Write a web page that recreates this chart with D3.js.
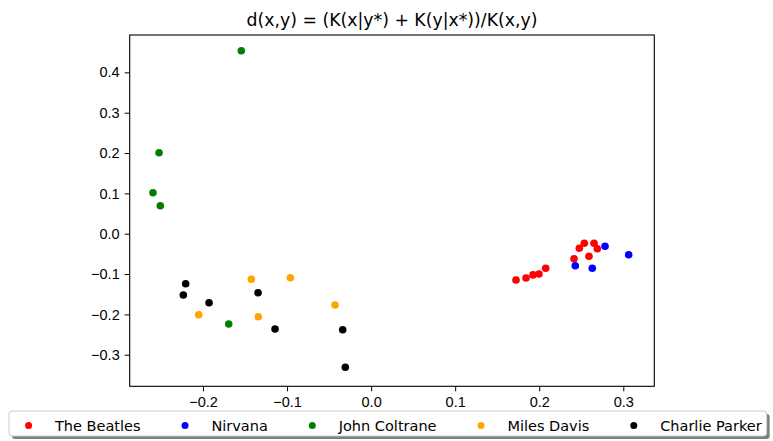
<!DOCTYPE html>
<meta charset="utf-8">
<head>
<script src="https://cdn.jsdelivr.net/npm/d3@7"></script>
<style>
  body { margin: 0; background: #fff; }
  svg { font-family: "DejaVu Sans", sans-serif; }
  .axis path, .axis line { stroke: #000; }
  .axis text { fill: #000; font-size: 14.5px; }
</style>
</head>
<body>
<div id="chart"></div>
<script>
// data
var bands = ["The Beatles", "Nirvana", "John Coltrane", "Miles Davis", "Charlie Parker"];
var colors = ["red", "blue", "green", "orange", "black"];

var beatlesX = [0.1724, 0.1843, 0.1926, 0.1997, 0.2077, 0.2414, 0.2477, 0.2536, 0.2652, 0.2691, 0.2592];
var beatlesY = [-0.1148, -0.1098, -0.1021, -0.0999, -0.0858, -0.0620, -0.0362, -0.0238, -0.0238, -0.0372, -0.0560];
var nirvanaX = [0.2429, 0.2631, 0.2783, 0.3064];
var nirvanaY = [-0.0793, -0.0858, -0.0312, -0.0521];
var coltraneX = [-0.1544, -0.2523, -0.2595, -0.2508, -0.1694];
var coltraneY = [0.4536, 0.2008, 0.1016, 0.0694, -0.2238];
var davisX = [-0.2051, -0.1425, -0.0961, -0.1342, -0.0429];
var davisY = [-0.2008, -0.1130, -0.1091, -0.2058, -0.1767];
var parkerX = [-0.2206, -0.2234, -0.1928, -0.1345, -0.1143, -0.0338, -0.0307];
var parkerY = [-0.1239, -0.1520, -0.1710, -0.1463, -0.2362, -0.2380, -0.3312];

var xTicks = [-0.2, -0.1, 0.0, 0.1, 0.2, 0.3];
var yTicks = [-0.3, -0.2, -0.1, 0.0, 0.1, 0.2, 0.3, 0.4];
var title = "d(x,y) = (K(x|y*) + K(y|x*))/K(x,y)";

var seriesX = [beatlesX, nirvanaX, coltraneX, davisX, parkerX];
var seriesY = [beatlesY, nirvanaY, coltraneY, davisY, parkerY];

var points = [];
bands.forEach(function(b, i) {
  seriesX[i].forEach(function(x, j) {
    points.push({band: b, color: colors[i], x: x, y: seriesY[i][j]});
  });
});

var W = 773, H = 441;
var margin = {top: 35, right: 118.7, bottom: 54.7, left: 129.7},
    width = W - margin.left - margin.right,
    height = H - margin.top - margin.bottom;

var svg = d3.select("#chart").append("svg")
    .attr("width", W)
    .attr("height", H);

svg.append("rect").attr("width", W).attr("height", H).attr("fill", "#fff");

var g = svg.append("g")
    .attr("transform", "translate(" + margin.left + "," + margin.top + ")");

var x = d3.scaleLinear().domain([-0.2872, 0.3369]).range([0, width]);
var y = d3.scaleLinear().domain([-0.3783, 0.4926]).range([height, 0]);

g.append("g")
    .attr("class", "axis")
    .attr("transform", "translate(0," + height + ")")
    .call(d3.axisBottom(x).tickValues(xTicks).tickFormat(d3.format(".1f")).tickSize(5).tickPadding(5))
    .call(function(a) { a.select(".domain").remove(); });

g.append("g")
    .attr("class", "axis")
    .call(d3.axisLeft(y).tickValues(yTicks).tickFormat(d3.format(".1f")).tickSize(5).tickPadding(5))
    .call(function(a) { a.select(".domain").remove(); });

// dots
g.selectAll("circle.dot")
    .data(points)
    .enter().append("circle")
    .attr("class", "dot")
    .attr("cx", function(d) { return x(d.x); })
    .attr("cy", function(d) { return y(d.y); })
    .attr("r", 3.8)
    .attr("fill", function(d) { return d.color; });

// frame
g.append("rect")
    .attr("width", width)
    .attr("height", height)
    .attr("fill", "none")
    .attr("stroke", "#000")
    .attr("stroke-width", 1.1);

// title
svg.append("text")
    .attr("x", margin.left + width / 2)
    .attr("y", 26)
    .attr("text-anchor", "middle")
    .style("font-size", "17.3px")
    .text(title);

// legend
var legend = svg.append("g");
var lgShadow = legend.append("rect")
    .attr("x", 12).attr("y", 414)
    .attr("rx", 3)
    .attr("fill", "#000").attr("fill-opacity", 0.5);
var lgBox = legend.append("rect")
    .attr("x", 9).attr("y", 411)
    .attr("rx", 3)
    .attr("fill", "#fff")
    .attr("stroke", "#ccc")
    .attr("stroke-width", 1);

var cursor = 28.6;
bands.forEach(function(b, i) {
  legend.append("circle")
      .attr("cx", cursor)
      .attr("cy", 425.5)
      .attr("r", 3.5)
      .attr("fill", colors[i]);
  var t = legend.append("text")
      .attr("x", cursor + 26.4)
      .attr("y", 425.5)
      .attr("dy", "0.36em")
      .style("font-size", "14.5px")
      .text(b);
  var w = t.node().getComputedTextLength();
  cursor = cursor + 26.4 + w + 44.5;
});
var boxRight = cursor - 44.5 + 5;
lgShadow.attr("width", boxRight - 9).attr("height", 25);
lgBox.attr("width", boxRight - 9).attr("height", 25);
</script>
</body>
</html>
